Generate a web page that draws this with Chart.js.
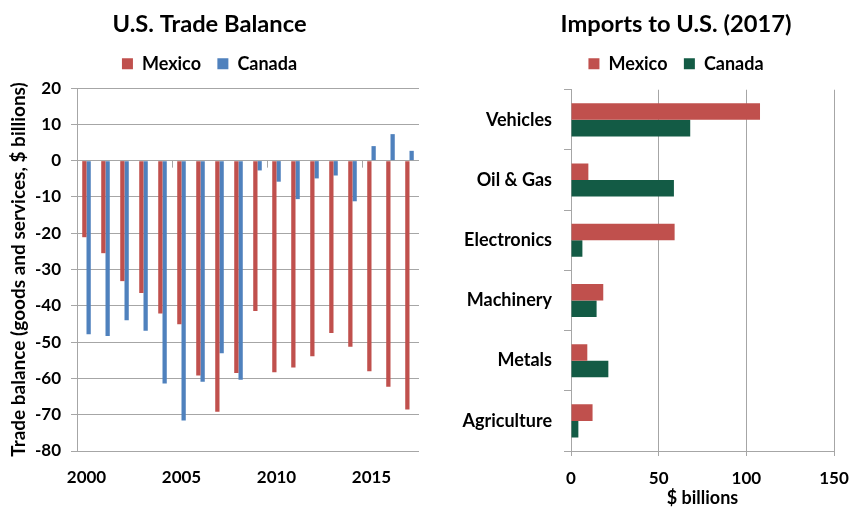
<!DOCTYPE html>
<html><head><meta charset="utf-8">
<script src="https://cdn.jsdelivr.net/npm/chart.js@4.4.0/dist/chart.umd.min.js"></script>
<style>
html,body{margin:0;padding:0;background:#fff;overflow:hidden;}
#wrap{position:relative;width:849px;height:511px;overflow:hidden;}
#c1{position:absolute;left:0;top:0;}
#c2{position:absolute;left:430px;top:0;}
</style></head><body>
<div id="wrap"><canvas id="c1" width="430" height="511"></canvas><canvas id="c2" width="507" height="511"></canvas></div>
<script>
// ---- data ----
const years = ['2000','2001','2002','2003','2004','2005','2006','2007','2008','2009','2010','2011','2012','2013','2014','2015','2016','2017'];
const mexicoBalance = [-21.1,-25.5,-33.2,-36.5,-42.1,-45.1,-59.2,-69.2,-58.5,-41.4,-58.3,-57.0,-53.9,-47.5,-51.3,-58.0,-62.3,-68.6];
const canadaBalance = [-47.8,-48.3,-44.0,-46.9,-61.4,-71.6,-60.9,-53.1,-60.4,-2.7,-5.8,-10.6,-4.9,-4.1,-11.2,4.0,7.3,2.7];
const balanceTicks = [20,10,0,-10,-20,-30,-40,-50,-60,-70,-80];
const yearLabelEvery = 5;

const sectors = ['Vehicles','Oil & Gas','Electronics','Machinery','Metals','Agriculture'];
const mexicoImports = [107.8,9.9,59.1,18.4,9.3,12.3];
const canadaImports = [68.0,58.7,6.5,14.6,21.3,4.2];
const importTicks = [0,50,100,150];

// ---- styles ----
const RED = '#C0504D', BLUE = '#4F81BD', GREEN = '#135B45';
const GRID = '#a6a6a6';
Chart.defaults.font.family = 'Lato';
Chart.defaults.font.weight = 'bold';
Chart.defaults.color = '#000';

const titleFont = {size: 23.7, weight: 'bold'};
const legendOpts = {position: 'top', labels: {boxWidth: 11, boxHeight: 11, padding: 16.4, font: {size: 18, weight: 'bold'}, color: '#000'}};
const tickFont = {size: 17, weight: 'bold'};

const zeroTicks = {
  id: 'zeroTicks',
  afterDatasetsDraw(chart) {
    const xs = chart.scales.x, ys = chart.scales.y, ctx = chart.ctx;
    const y0 = ys.getPixelForValue(0);
    ctx.save();
    ctx.strokeStyle = GRID; ctx.lineWidth = 1;
    for (let i = yearLabelEvery; i < years.length; i += yearLabelEvery) {
      const px = Math.round((xs.getPixelForValue(i - 1) + xs.getPixelForValue(i)) / 2) + 0.5;
      ctx.beginPath(); ctx.moveTo(px, y0); ctx.lineTo(px, y0 + 7); ctx.stroke();
    }
    ctx.restore();
  }
};

new Chart(document.getElementById('c1'), {
  type: 'bar',
  data: {
    labels: years,
    datasets: [
      {label: 'Mexico', data: mexicoBalance, backgroundColor: RED},
      {label: 'Canada', data: canadaBalance, backgroundColor: BLUE}
    ]
  },
  plugins: [zeroTicks],
  options: {
    responsive: false, animation: false,
    categoryPercentage: 0.45, barPercentage: 1.0,
    layout: {padding: {left: 0, right: 11, top: 0, bottom: 0}},
    plugins: {
      title: {display: true, text: 'U.S. Trade Balance', font: titleFont, color: '#000', padding: {top: 10, bottom: 0}},
      subtitle: {display: true, text: '', weight: 500, font: {size: 1, lineHeight: 1}, padding: {top: 0, bottom: 4.2}},
      legend: legendOpts,
      tooltip: {enabled: false}
    },
    scales: {
      x: {
        grid: {display: false, drawTicks: false},
        border: {display: false},
        ticks: {autoSkip: false, maxRotation: 0, padding: 16, font: tickFont, color: '#000',
          callback: function(v, i) { return i % yearLabelEvery === 0 ? years[i] : ''; }},
        afterFit: s => { s.height = 60; }
      },
      y: {
        min: -80, max: 20,
        afterBuildTicks: s => { s.ticks = balanceTicks.map(v => ({value: v})); },
        grid: {color: GRID, lineWidth: 1, drawTicks: true, tickLength: 6},
        border: {display: true, color: GRID},
        ticks: {padding: 10, font: tickFont, color: '#000'},
        title: {display: true, text: 'Trade balance (goods and services, $ billions)', font: {size: 19, weight: 'bold'}, color: '#000', padding: {top: 7, bottom: 0}},
        afterFit: s => { s.width = 77; }
      }
    }
  }
});

new Chart(document.getElementById('c2'), {
  type: 'bar',
  data: {
    labels: sectors,
    datasets: [
      {label: 'Mexico', data: mexicoImports, backgroundColor: RED},
      {label: 'Canada', data: canadaImports, backgroundColor: GREEN}
    ]
  },
  options: {
    indexAxis: 'y',
    responsive: false, animation: false,
    categoryPercentage: 0.55, barPercentage: 1.0,
    layout: {padding: {left: 0, right: 15, top: 0, bottom: 0}},
    plugins: {
      title: {display: true, text: 'Imports to U.S. (2017)', font: titleFont, color: '#000', padding: {top: 10, bottom: 0}},
      subtitle: {display: true, text: '', weight: 500, font: {size: 1, lineHeight: 1}, padding: {top: 0, bottom: 5.9}},
      legend: legendOpts,
      tooltip: {enabled: false}
    },
    scales: {
      x: {
        min: 0, max: 150,
        afterBuildTicks: s => { s.ticks = importTicks.map(v => ({value: v})); },
        grid: {color: GRID, lineWidth: 1, drawTicks: true, tickLength: 5},
        border: {display: true, color: GRID},
        ticks: {padding: 12, font: tickFont, color: '#000'},
        title: {display: true, text: '$ billions', font: {size: 18, weight: 'bold'}, color: '#000', padding: {top: 0, bottom: 2}},
        afterFit: s => { s.height = 60; }
      },
      y: {
        grid: {color: GRID, drawOnChartArea: false, drawTicks: true, tickLength: 7, offset: true},
        border: {display: true, color: GRID},
        ticks: {padding: 12, font: {size: 18, weight: 'bold'}, color: '#000'},
        afterFit: s => { s.width = 141; }
      },
      spacer: {
        type: 'category', axis: 'y', position: 'right', labels: sectors,
        grid: {display: false, drawTicks: false}, border: {display: false},
        ticks: {display: false},
        afterFit: s => { s.width = 88; }
      }
    }
  }
});
</script>
</body></html>
